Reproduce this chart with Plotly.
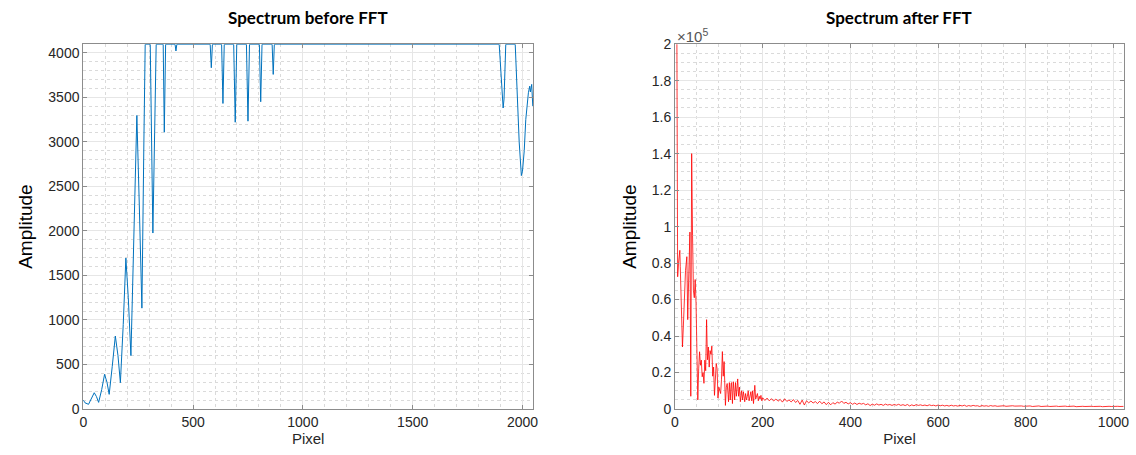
import plotly.graph_objects as go
from plotly.subplots import make_subplots

# ---------------- data: spectrum before FFT (left) ----------------
raw_pixel = [0, 8, 24, 37, 50, 60, 70, 84, 97, 108, 118, 132, 146, 158, 169, 182, 194, 205, 217,
             230, 244, 255, 267, 276, 282, 305, 311, 317, 325, 332, 364, 369, 375, 418, 422, 426,
             578, 583, 588, 630, 636, 642, 685, 692, 699, 743, 750, 757, 802, 808, 814, 860, 865,
             870, 1894, 1905, 1912, 1916, 1924, 1967, 1975, 1985, 1995, 2000, 2008, 2015, 2027,
             2033, 2036, 2042, 2047]
raw_amp = [100, 70, 53, 120, 183, 140, 75, 220, 390, 300, 165, 480, 820, 600, 296, 950, 1695, 1250, 600,
           1900, 3296, 2300, 1133, 3000, 4095, 4095, 3000, 1976, 3100, 4095, 4095, 3108, 4095, 4095, 4020, 4095,
           4095, 3832, 4095, 4095, 3431, 4095, 4095, 3220, 4095, 4095, 3232, 4095, 4095, 3450, 4095, 4095, 3757,
           4095, 4095, 3650, 3380, 3480, 4095, 4095, 3600, 3000, 2621, 2670, 2900, 3250, 3551,
           3625, 3560, 3645, 3400]

# ---------------- data: spectrum after FFT (right) ----------------
fft_pixel_head = [1, 4, 6, 8, 11, 12, 14, 17, 19, 21, 24, 27, 29, 31, 34, 36, 38, 40, 42, 44, 46, 48, 50,
                  52, 54, 56, 58, 60, 62, 64, 66, 68, 70, 72, 74, 76, 78, 80, 82, 84, 86, 88, 90, 92, 94,
                  96, 98, 100, 102, 104, 106, 108, 110, 112, 114, 115, 117, 119, 121, 122, 124, 126, 128,
                  129, 131, 133, 135, 136, 138, 140, 142, 143, 145, 147, 149, 151, 152, 154, 156, 158, 159,
                  161, 163, 165, 167, 169, 171, 173, 175, 177, 179, 181, 182, 184, 186, 188, 190, 192, 194,
                  196, 198]
fft_amp_head = [450000, 240000, 72500, 80000, 87000, 78000, 52000, 34000, 45000, 62000, 76000, 83500, 49000,
                70000, 97000, 7000, 140000, 95000, 65000, 61000, 71000, 58000, 30000, 5000, 22000, 31400,
                24000, 26800, 17700, 20000, 14100, 26800, 21000, 49000, 27000, 34000, 23000, 32000, 30000,
                34500, 18000, 23000, 7500, 18000, 25000, 22000, 6000, 12000, 9000, 8500, 16000, 31500, 18000,
                26000, 10000, 2000, 12000, 14000, 8000, 4000, 14500, 5000, 14000, 14500, 3000, 15000, 9000,
                5000, 14500, 7000, 13000, 16500, 7000, 12000, 4000, 9000, 10000, 5000, 9500, 6000, 4000,
                8500, 5000, 7000, 10000, 4500, 8000, 9500, 4500, 10000, 3000, 9000, 13000, 5500, 7000, 8500,
                4500, 7000, 5500, 7500, 4500]

fft_pixel_tail = list(range(200, 1021, 5)) + [1023]
fft_amp_tail = [6200, 4700, 6000, 4500, 5700, 4400, 5500, 4300, 5300, 3800, 5600, 4200, 5000, 3900, 5200,
                3600, 4700, 2600, 4900, 2200, 4500, 3400, 4400, 3300, 4100, 3000, 4300, 2900, 3900, 2400,
                3700, 2300, 3500, 2700, 3800, 3200, 4400, 3100, 3700, 2800, 3500, 2600, 3300, 2500, 3200,
                2700, 3100, 2300, 2900, 1900, 2700, 2100, 2800, 2200, 2600, 2000, 2700, 2200, 2500, 2000,
                2500, 2100, 2600, 2000, 2400, 1900, 2500, 1700, 2300, 1800, 2400, 2000, 2300, 1900, 2200,
                1800, 2300, 1900, 2100, 1700, 2200, 1800, 2100, 1700, 2000, 1600, 2100, 1700, 1900, 1600,
                2000, 1700, 2100, 1500, 1900, 1600, 2000, 1700, 1800, 1400, 1900, 1600, 1800, 1500, 1900,
                1600, 1800, 1500, 1700, 1600, 1800, 1500, 1700, 1500, 1800, 1600, 1700, 1400, 1700, 1500,
                1600, 1500, 1700, 1400, 1600, 1500, 1700, 1400, 1600, 1500, 1600, 1400, 1600, 1500, 1600,
                1400, 1500, 1400, 1600, 1400, 1500, 1400, 1600, 1300, 1500, 1400, 1500, 1400, 1500, 1300,
                1500, 1400, 1500, 1400, 1500, 1300, 1500, 1400, 1500, 1400, 1500, 1400, 1500, 1400, 1500,
                1450]

fft_pixel = fft_pixel_head + fft_pixel_tail
fft_amp = fft_amp_head + fft_amp_tail

left_xticks = [0, 500, 1000, 1500, 2000]
left_yticks = [0, 500, 1000, 1500, 2000, 2500, 3000, 3500, 4000]
right_xticks = [0, 200, 400, 600, 800, 1000]
right_yticks = [0, 20000, 40000, 60000, 80000, 100000, 120000, 140000, 160000, 180000, 200000]
right_yticktext = ["0", "0.2", "0.4", "0.6", "0.8", "1", "1.2", "1.4", "1.6", "1.8", "2"]

# ---------------- figure ----------------
fig = make_subplots(rows=1, cols=2)

fig.add_trace(go.Scatter(x=raw_pixel, y=raw_amp, mode="lines",
                         line=dict(color="#0072BD", width=1), showlegend=False), row=1, col=1)
fig.add_trace(go.Scatter(x=fft_pixel, y=fft_amp, mode="lines",
                         line=dict(color="#FF0000", width=0.8), showlegend=False), row=1, col=2)

tick_font = dict(family="Liberation Sans, Arial, sans-serif", size=14, color="#262626")
label_font = dict(family="Liberation Sans, Arial, sans-serif", size=15, color="#262626")
ylabel_font = dict(family="Liberation Sans, Arial, sans-serif", size=19, color="#000000")

common = dict(showline=True, linecolor="#8c8c8c", linewidth=1, mirror="ticks", ticks="inside",
              ticklen=4, tickcolor="#8c8c8c", showgrid=True, gridcolor="#e6e6e6", gridwidth=1,
              zeroline=False, tickfont=tick_font, automargin=False)

ydom = [0.101, 0.903]
fig.update_xaxes(domain=[0.0733, 0.4692], range=[0, 2048], tickvals=left_xticks,
                 title=dict(text="Pixel", font=label_font, standoff=4),
                 minor=dict(dtick=100, showgrid=True, griddash="dot", gridcolor="#dadada", ticks=""),
                 row=1, col=1, **common)
fig.update_yaxes(domain=ydom, range=[0, 4097], tickvals=left_yticks,
                 title=dict(text="Amplitude", font=ylabel_font, standoff=10),
                 minor=dict(dtick=100, showgrid=True, griddash="dot", gridcolor="#dadada", ticks=""),
                 row=1, col=1, **common)
fig.update_xaxes(domain=[0.5942, 0.9894], range=[0, 1024], tickvals=right_xticks,
                 title=dict(text="Pixel", font=label_font, standoff=4),
                 minor=dict(dtick=50, showgrid=True, griddash="dot", gridcolor="#dadada", ticks=""),
                 row=1, col=2, **common)
fig.update_yaxes(domain=ydom, range=[0, 200000], tickvals=right_yticks, ticktext=right_yticktext,
                 title=dict(text="Amplitude", font=ylabel_font, standoff=10),
                 minor=dict(dtick=5000, showgrid=True, griddash="dot", gridcolor="#dadada", ticks=""),
                 row=1, col=2, **common)

title_font = dict(family="Lato, Carlito, sans-serif", size=17, color="#000000")
fig.add_annotation(text="<b>Spectrum before FFT</b>", x=0.2713, y=0.962, xref="paper", yref="paper",
                   showarrow=False, font=title_font, xanchor="center", yanchor="middle")
fig.add_annotation(text="<b>Spectrum after FFT</b>", x=0.7918, y=0.962, xref="paper", yref="paper",
                   showarrow=False, font=title_font, xanchor="center", yanchor="middle")
fig.add_annotation(text="×10<sup>5</sup>", x=0.5942, y=0.903, xref="paper", yref="paper",
                   showarrow=False, xanchor="left", yanchor="bottom", xshift=0, yshift=-3,
                   font=dict(family="Liberation Sans, Arial, sans-serif", size=15, color="#555555"))

fig.update_layout(width=1136, height=455, margin=dict(l=0, r=0, t=0, b=0),
                  plot_bgcolor="white", paper_bgcolor="white")

fig.write_html("out.html", config={"displayModeBar": False},
               post_script="document.body.style.margin='0';")
